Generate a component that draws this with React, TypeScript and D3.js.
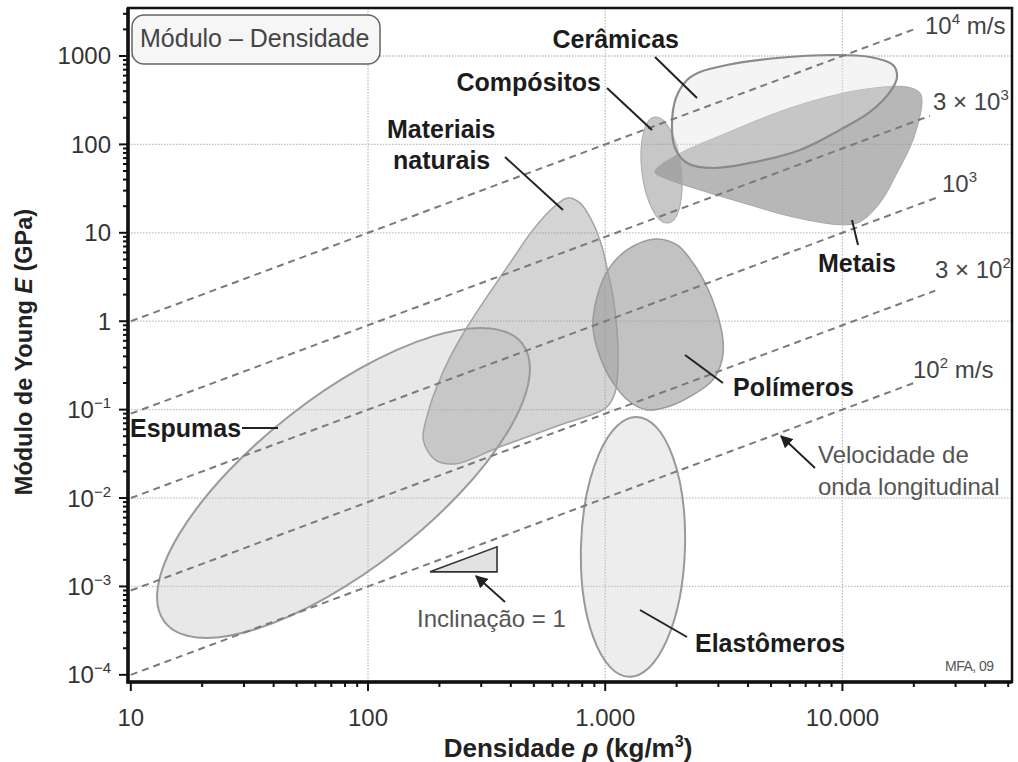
import React from "react";
import * as d3 from "d3";

// Axis ticks
const densityTicks = [10, 100, 1000, 10000];
const densityTickLabels = ["10", "100", "1.000", "10.000"];
const modulusTicks = [1000, 100, 10, 1, 0.1, 0.01, 0.001, 0.0001];
const modulusTickLabels: [string, string][] = [
  ["1000", ""], ["100", ""], ["10", ""], ["1", ""],
  ["10", "−1"], ["10", "−2"], ["10", "−3"], ["10", "−4"],
];
const densityGrid = [100, 1000, 10000];
const modulusGrid = [1000, 100, 10, 1, 0.1, 0.01, 0.001];

// Longitudinal wave speed guide lines, v = sqrt(E/ρ)  (m/s)
const waveSpeeds = [1e4, 3e3, 1e3, 3e2, 1e2];
const waveLineStartDensity = [10, 10, 10, 10, 10];
const waveLineEndDensity = [20800, 23400, 25800, 24600, 20200];
const waveLabels: [string, string, string][] = [
  ["10", "4", " m/s"], ["3 × 10", "3", ""], ["10", "3", ""], ["3 × 10", "2", ""], ["10", "2", " m/s"],
];

// Elliptical envelopes: ends of the major axis (ρ kg/m³, E GPa) and minor/major ratio
const foamAxis = [[13.9, 3.94e-4], [447, 0.558]];
const foamRatio = 0.38;
const elastomerAxis = [[1260, 9.5e-5], [1361, 0.0827]];
const elastomerRatio = 0.4;
const compositeAxis = [[1840, 12.9], [1622, 204]];
const compositeRatio = 0.37;

// Free-form envelopes, outline points (ρ kg/m³, E GPa)
const naturalMaterials = [
  [697, 24.8], [783, 21.8], [888, 12.9], [970, 6.9], [1028, 3.52], [1079, 1.88], [1121, 0.8],
  [1132, 0.34], [1100, 0.155], [1008, 0.105], [645, 0.067], [360, 0.038], [233, 0.0243],
  [192, 0.027], [171, 0.0455], [179, 0.092], [195, 0.181], [222, 0.395], [262, 0.86],
  [305, 1.61], [397, 4.56], [496, 10.8], [614, 20.1],
];
const polymers = [
  [1622, 8.52], [2008, 7.29], [2345, 4.56], [2687, 2.44], [2960, 1.24], [3138, 0.614],
  [3108, 0.365], [2847, 0.217], [2345, 0.147], [1822, 0.107], [1501, 0.0993], [1273, 0.122],
  [1079, 0.201], [951, 0.395], [888, 0.862], [924, 1.88], [1028, 3.8], [1236, 6.4],
];
const metals = [
  [1622, 48.8], [2008, 75.9], [3262, 135], [6189, 265], [11865, 413], [18730, 446],
  [21240, 382], [21650, 294], [19850, 112], [16990, 47.5], [14410, 21.8], [11865, 13.3],
  [10060, 12.3], [6189, 15.1], [3809, 21.8], [2510, 30.5], [1876, 39.6],
];
const ceramics = [
  [2213, 535], [2510, 659], [3262, 791], [5300, 949], [9130, 1026], [13075, 974],
  [16345, 791], [16990, 579], [15878, 392], [13075, 233], [9770, 146], [6626, 86.5],
  [4080, 61.7], [2847, 54.1], [2213, 61.7], [1969, 91.1], [1912, 166], [1988, 335],
];

// Slope-1 marker triangle: densities and modulus at the base
const slopeDensities = [182.5, 349.9];
const slopeBaseModulus = 1.462e-3;

const FONT = "'Liberation Sans', Arial, Helvetica, sans-serif";

export default function App() {
  const left = 128, right = 1012, top = 8, bottom = 682;
  const x = d3.scaleLog().domain([9.73, 51880]).range([left, right]);
  const y = d3.scaleLog().domain([8.3e-5, 3490]).range([bottom, top]);

  const outline = d3
    .line<number[]>()
    .x((d) => x(d[0]))
    .y((d) => y(d[1]))
    .curve(d3.curveCatmullRomClosed.alpha(0.5));

  const ellipse = (axis: number[][], ratio: number, style: any) => {
    const x1 = x(axis[0][0]), y1 = y(axis[0][1]);
    const x2 = x(axis[1][0]), y2 = y(axis[1][1]);
    const cx = (x1 + x2) / 2, cy = (y1 + y2) / 2;
    const rx = Math.hypot(x2 - x1, y2 - y1) / 2;
    const ang = (Math.atan2(y2 - y1, x2 - x1) * 180) / Math.PI;
    return (
      <ellipse cx={cx} cy={cy} rx={rx} ry={rx * ratio}
        transform={`rotate(${ang} ${cx} ${cy})`} {...style} />
    );
  };

  // minor ticks
  const xMinor: number[] = [];
  for (let d = 10; d <= 10000; d *= 10)
    for (let k = 2; k <= 9; k++) if (d * k < 51880) xMinor.push(d * k);
  const yMinor: number[] = [];
  for (let d = 1e-4; d <= 1000; d *= 10)
    for (let k = 2; k <= 9; k++) if (d * k < 3490) yMinor.push(d * k);

  const slopeTop = slopeBaseModulus * (slopeDensities[1] / slopeDensities[0]);
  const tri = [
    [slopeDensities[0], slopeBaseModulus],
    [slopeDensities[1], slopeBaseModulus],
    [slopeDensities[1], slopeTop],
  ];

  const catLabel = { fontFamily: FONT, fontSize: 25, fontWeight: 700, fill: "#1c1c1c" };
  const noteLabel = { fontFamily: FONT, fontSize: 24, fill: "#555" };
  const leader = { stroke: "#222", strokeWidth: 2 };

  return (
    <svg width={1018} height={762} style={{ position: "absolute", left: 0, top: 0, background: "#fff" }}>
      <defs>
        <marker id="arrowHead" viewBox="0 0 10 10" refX="9" refY="5" markerWidth="7" markerHeight="7" orient="auto">
          <path d="M0,0 L10,5 L0,10 z" fill="#222" />
        </marker>
      </defs>
      <rect x={0} y={0} width={1018} height={762} fill="#fff" />

      {/* grid */}
      <g stroke="#bdbdbd" strokeWidth={1.3} strokeDasharray="1.5,1.5">
        {densityGrid.map((d) => (
          <line key={"gx" + d} x1={x(d)} x2={x(d)} y1={top} y2={bottom} />
        ))}
        {modulusGrid.map((e) => (
          <line key={"gy" + e} x1={left} x2={right} y1={y(e)} y2={y(e)} />
        ))}
      </g>

      {/* material envelopes */}
      {ellipse(foamAxis, foamRatio, { fill: "#c8c8c8", fillOpacity: 0.42, stroke: "#9a9a9a", strokeWidth: 2 })}
      <path d={outline(naturalMaterials) || ""} fill="#999" fillOpacity={0.42} stroke="#a2a2a2" strokeWidth={1.5} />
      <path d={outline(polymers) || ""} fill="#999" fillOpacity={0.6} stroke="#9a9a9a" strokeWidth={1.5} />
      {ellipse(elastomerAxis, elastomerRatio, { fill: "#ccc", fillOpacity: 0.35, stroke: "#999", strokeWidth: 2 })}
      <path d={outline(metals) || ""} fill="#999" fillOpacity={0.7} stroke="#a8a8a8" strokeWidth={1} />
      {ellipse(compositeAxis, compositeRatio, { fill: "#999", fillOpacity: 0.55, stroke: "#a8a8a8", strokeWidth: 1 })}
      <path d={outline(ceramics) || ""} fill="#e0e0e0" fillOpacity={0.36} stroke="#8a8a8a" strokeWidth={2.2} />

      {/* wave speed guide lines */}
      <g stroke="#7a7a7a" strokeWidth={2} strokeDasharray="7,5" fill="none">
        {waveSpeeds.map((v, i) => {
          const r0 = waveLineStartDensity[i], r1 = waveLineEndDensity[i];
          const k = (v * v) / 1e9;
          return <line key={"w" + v} x1={x(r0)} y1={y(r0 * k)} x2={x(r1)} y2={y(r1 * k)} />;
        })}
      </g>
      {waveLabels.map((w, i) => {
        const pos = [[925, 34], [933, 110], [942, 192], [935, 278], [913, 378]][i];
        return (
          <text key={"wl" + i} x={pos[0]} y={pos[1]} fontFamily={FONT} fontSize={24} fill="#444">
            {w[0]}
            <tspan dy={-10} fontSize={15}>{w[1]}</tspan>
            <tspan dy={10}>{w[2]}</tspan>
          </text>
        );
      })}

      {/* slope-1 marker */}
      <path d={"M" + tri.map((p) => `${x(p[0])},${y(p[1])}`).join("L") + "Z"}
        fill="#e2e2e2" stroke="#333" strokeWidth={1.6} />
      <line x1={505} y1={602} x2={476} y2={576} stroke="#222" strokeWidth={1.8} markerEnd="url(#arrowHead)" />
      <text x={417} y={627} {...noteLabel}>Inclinação = 1</text>

      {/* wave-speed note */}
      <line x1={815} y1={468} x2={781} y2={436} stroke="#222" strokeWidth={1.8} markerEnd="url(#arrowHead)" />
      <text x={818} y={463} {...noteLabel}>Velocidade de</text>
      <text x={818} y={495} {...noteLabel}>onda longitudinal</text>

      {/* category labels and leaders */}
      <line x1={655} y1={57} x2={697} y2={98} {...leader} />
      <text x={679} y={48} textAnchor="end" {...catLabel}>Cerâmicas</text>
      <line x1={607} y1={88} x2={652} y2={130} {...leader} />
      <text x={601} y={91} textAnchor="end" {...catLabel}>Compósitos</text>
      <line x1={505} y1={157} x2={563} y2={210} {...leader} />
      <text x={387} y={138} {...catLabel}>Materiais</text>
      <text x={393} y={169} {...catLabel}>naturais</text>
      <line x1={852} y1={220} x2={858} y2={245} {...leader} />
      <text x={818} y={272} {...catLabel}>Metais</text>
      <line x1={685} y1={355} x2={723} y2={383} {...leader} />
      <text x={733} y={396} {...catLabel}>Polímeros</text>
      <line x1={242} y1={428} x2={278} y2={428} {...leader} />
      <text x={130} y={437} {...catLabel}>Espumas</text>
      <line x1={640} y1={610} x2={687} y2={637} {...leader} />
      <text x={695} y={652} {...catLabel}>Elastômeros</text>

      <text x={945} y={671} fontFamily={FONT} fontSize={14} fill="#555" letterSpacing={-0.5}>MFA, 09</text>

      {/* title box */}
      <rect x={132} y={15} width={248} height={49} rx={12} fill="#f6f6f6" stroke="#666" strokeWidth={1.5} />
      <text x={140} y={47} fontFamily={FONT} fontSize={25} fill="#444">Módulo – Densidade</text>

      {/* frame */}
      <rect x={left} y={top} width={right - left} height={bottom - top} fill="none" stroke="#111" strokeWidth={2.5} />
      <line x1={left} x2={left} y1={top} y2={bottom + 1.5} stroke="#111" strokeWidth={3.5} />
      <line x1={left - 1.5} x2={right} y1={bottom} y2={bottom} stroke="#111" strokeWidth={3.5} />

      {/* ticks */}
      <g stroke="#111" strokeWidth={2}>
        {densityTicks.map((d) => (
          <line key={"xt" + d} x1={x(d)} x2={x(d)} y1={bottom} y2={bottom + 9} />
        ))}
        {xMinor.map((d) => (
          <line key={"xm" + d} x1={x(d)} x2={x(d)} y1={bottom} y2={bottom + 5} />
        ))}
        {modulusTicks.map((e) => (
          <line key={"yt" + e} x1={left - 9} x2={left} y1={y(e)} y2={y(e)} />
        ))}
        {yMinor.map((e) => (
          <line key={"ym" + e} x1={left - 5} x2={left} y1={y(e)} y2={y(e)} />
        ))}
      </g>

      {/* tick labels */}
      {densityTicks.map((d, i) => (
        <text key={"xl" + d} x={x(d)} y={726} textAnchor="middle" fontFamily={FONT} fontSize={24} fill="#333">
          {densityTickLabels[i]}
        </text>
      ))}
      {modulusTicks.map((e, i) => (
        <text key={"yl" + e} x={111} y={y(e) + 8.5} textAnchor="end" fontFamily={FONT} fontSize={24} fill="#333">
          {modulusTickLabels[i][0]}
          {modulusTickLabels[i][1] && <tspan dy={-10} fontSize={15}>{modulusTickLabels[i][1]}</tspan>}
        </text>
      ))}

      {/* axis titles */}
      <text x={568} y={757} textAnchor="middle" fontFamily={FONT} fontSize={26} fontWeight={700} fill="#222">
        Densidade <tspan fontStyle="italic">ρ</tspan> (kg/m<tspan dy={-10} fontSize={16}>3</tspan><tspan dy={10}>)</tspan>
      </text>
      <text transform="translate(32,352) rotate(-90)" textAnchor="middle" fontFamily={FONT} fontSize={23.5} fontWeight={700} fill="#222">
        Módulo de Young <tspan fontStyle="italic">E</tspan> (GPa)
      </text>
    </svg>
  );
}
